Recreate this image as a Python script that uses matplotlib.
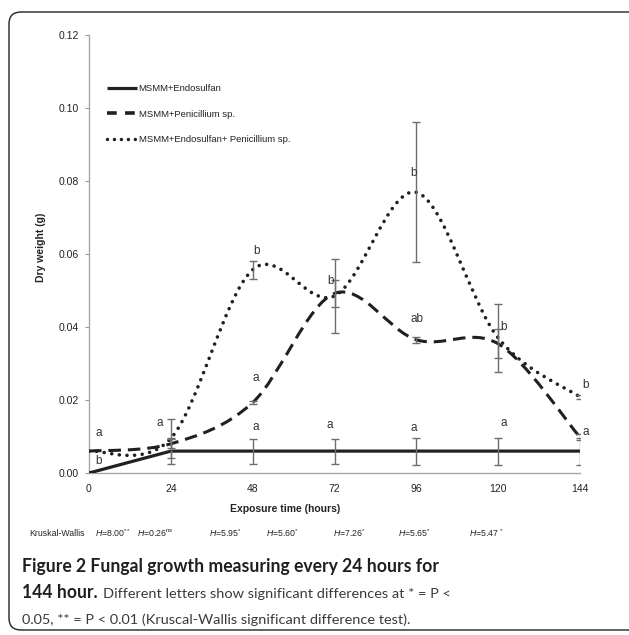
import matplotlib
matplotlib.use("Agg")
import matplotlib.pyplot as plt
from matplotlib.path import Path
from matplotlib.patches import PathPatch, FancyBboxPatch
from matplotlib.lines import Line2D
import numpy as np

plt.rcParams['font.family'] = ['Liberation Sans', 'DejaVu Sans']
plt.rcParams['lines.scale_dashes'] = False
plt.rcParams['mathtext.fontset'] = 'custom'
plt.rcParams['mathtext.rm'] = 'Liberation Sans'
plt.rcParams['mathtext.it'] = 'Liberation Sans:italic'
plt.rcParams['mathtext.bf'] = 'Liberation Sans:bold'

# ---------------- data ----------------
hours = [0, 24, 48, 72, 96, 120, 144]
endo = [0.0, 0.006, 0.006, 0.006, 0.006, 0.006, 0.006]
endo_err = [0.0, 0.0035, 0.0034, 0.0034, 0.0037, 0.0037, 0.0037]
peni = [0.006, 0.008, 0.0193, 0.0492, 0.0365, 0.0354, 0.0098]
peni_err = [0.0, 0.0012, 0.0005, 0.0038, 0.0008, 0.004, 0.0008]
combo = [0.006, 0.0095, 0.0557, 0.0485, 0.0769, 0.037, 0.0208]
combo_err = [0.0, 0.0053, 0.0025, 0.0101, 0.0192, 0.0092, 0.0005]

series_names = ["MSMM+Endosulfan", "MSMM+Penicillium sp.",
                "MSMM+Endosulfan+ Penicillium sp."]

letter_text = ["a", "b", "a", "b", "a", "a", "b", "a", "b", "ab", "a", "b", "a", "b", "a"]
letter_x = [2.9, 2.9, 20.8, 49.0, 49.0, 49.0, 70.9, 70.7, 95.3, 96.2, 95.3, 121.7, 121.7, 145.7, 145.7]
letter_y = [0.0110, 0.0034, 0.0137, 0.0609, 0.0260, 0.0127, 0.0527, 0.0131, 0.0823, 0.0422,
            0.0124, 0.0400, 0.0138, 0.0241, 0.0113]

kw_labels = ["Kruskal-Wallis",
             r"$\mathit{H}$=8.00$^{**}$",
             r"$\mathit{H}$=0.26$^{\mathrm{ns}}$",
             r"$\mathit{H}$=5.95$^{*}$",
             r"$\mathit{H}$=5.60$^{*}$",
             r"$\mathit{H}$=7.26$^{*}$",
             r"$\mathit{H}$=5.65$^{*}$",
             r"$\mathit{H}$=5.47 $^{*}$"]
kw_px = [57, 113, 155, 225, 282, 349, 414, 487]

y_ticks = [0.0, 0.02, 0.04, 0.06, 0.08, 0.10, 0.12]

# ---------------- figure ----------------
W, H = 629, 635
fig = plt.figure(figsize=(W / 100, H / 100), dpi=100)
ax = fig.add_axes([89 / W, 1 - 473 / H, 491 / W, 438 / H])

DARK = '#231f20'
GRAY = '#6e6e6e'


def smooth_path(xs, ys):
    pts = np.column_stack([xs, ys]).astype(float)
    n = len(pts)
    verts = [pts[0]]
    codes = [Path.MOVETO]
    for i in range(n - 1):
        p0 = pts[i - 1] if i > 0 else pts[i]
        p1 = pts[i]
        p2 = pts[i + 1]
        p3 = pts[i + 2] if i + 2 < n else pts[i + 1]
        c1 = p1 + (p2 - p0) / 6.0
        c2 = p2 - (p3 - p1) / 6.0
        verts += [c1, c2, p2]
        codes += [Path.CURVE4] * 3
    return Path(verts, codes)


# solid (straight)
ax.plot(hours, endo, color=DARK, lw=2.3, solid_capstyle='butt', zorder=4)

# dashed smoothed
p_dash = PathPatch(smooth_path(hours, peni), facecolor='none', edgecolor=DARK,
                   lw=2.2, linestyle=(0, (9.0, 5.0)), zorder=4)
p_dash.set_capstyle('butt')
ax.add_patch(p_dash)

# dotted smoothed
p_dot = PathPatch(smooth_path(hours, combo), facecolor='none', edgecolor=DARK,
                  lw=2.6, linestyle=(0, (0.01, 5.5)), zorder=4)
p_dot.set_capstyle('round')
ax.add_patch(p_dot)

# error bars
for vals, errs in [(endo, endo_err), (peni, peni_err), (combo, combo_err)]:
    ax.errorbar(hours[1:], vals[1:], yerr=errs[1:], fmt='none', ecolor=GRAY,
                elinewidth=1.0, capsize=3, capthick=1.0, zorder=5)

for t, x, y in zip(letter_text, letter_x, letter_y):
    ax.text(x, y, t, ha='center', va='center', fontsize=8.5, color='#333333',
            zorder=6, clip_on=False)

ax.set_xlim(0, 144)
ax.set_ylim(0, 0.12)
ax.set_xticks(hours)
ax.set_xticklabels([str(h) for h in hours])
ax.set_yticks(y_ticks)
ax.set_yticklabels([f"{v:.2f}" for v in y_ticks])
ax.tick_params(axis='x', length=0, pad=8, labelsize=7.5, colors='#222222')
ax.tick_params(axis='y', length=3, width=0.8, pad=4.5, labelsize=7.5,
               colors='#222222', color='#9a9a9a')
for s in ['top', 'right']:
    ax.spines[s].set_visible(False)
for s in ['left', 'bottom']:
    ax.spines[s].set_color('#a6a6a6')
    ax.spines[s].set_linewidth(1.0)

ax.set_xlabel("Exposure time (hours)", fontsize=7.5, fontweight='bold', color='#222222')
ax.xaxis.set_label_coords((285 - 89) / 491, (473 - 504) / 438)
ax.set_ylabel("Dry weight (g)", fontsize=7.5, fontweight='bold', color='#222222')
ax.yaxis.set_label_coords((46 - 89) / 491, (473 - 247) / 438)

# legend
handles = [
    Line2D([], [], color=DARK, lw=2.3, solid_capstyle='butt'),
    Line2D([], [], color=DARK, lw=2.6, linestyle=(0, (7.0, 6.0)), dash_capstyle='butt'),
    Line2D([], [], color=DARK, lw=2.5, linestyle=(0, (0.01, 5.0)), dash_capstyle='round'),
]
leg = ax.legend(handles, series_names, loc='upper left',
                bbox_to_anchor=((107 - 89) / 491, (473 - 84) / 438),
                frameon=False, fontsize=6.8, handlelength=3.15, handletextpad=0.2,
                labelspacing=1.75, borderpad=0, borderaxespad=0)
for t in leg.get_texts():
    t.set_color('#222222')

# Kruskal-Wallis row
for lab, px in zip(kw_labels, kw_px):
    fig.text(px / W, 1 - 533 / H, lab, ha='center', va='center', fontsize=6.3,
             color='#222222')

# caption
renderer = fig.canvas.get_renderer()


def fit_text(x, y, s, target_w, **kw):
    t = fig.text(x, y, s, **kw)
    fs = t.get_fontsize()
    w = t.get_window_extent(renderer).width
    t.set_fontsize(fs * target_w / w)
    return t


CAPF = ['Lato', 'DejaVu Sans']
NORM = '#3a3a3a'
fit_text(22 / W, 1 - 572 / H, "Figure 2 Fungal growth measuring every 24 hours for",
         415, fontsize=12, fontweight='bold', family=CAPF, color=DARK,
         ha='left', va='baseline')
b2 = fit_text(22 / W, 1 - 598 / H, "144 hour.", 75, fontsize=12, fontweight='bold',
              family=CAPF, color=DARK, ha='left', va='baseline')
bx1 = b2.get_window_extent(renderer).x1
n2 = fit_text((bx1 + 5) / W, 1 - 598 / H,
              "Different letters show significant differences at * = P <",
              473 - bx1 - 5, fontsize=12, family=CAPF, color=NORM, ha='left',
              va='baseline')
n3 = fit_text(22 / W, 1 - 624 / H,
              "0.05, ** = P < 0.01 (Kruscal-Wallis significant difference test).",
              358, fontsize=12, family=CAPF, color=NORM, ha='left', va='baseline')
common = 0.5 * (n2.get_fontsize() + n3.get_fontsize())
n2.set_fontsize(common)
n3.set_fontsize(common)

# border
box = FancyBboxPatch((9, 5), 650, 618, boxstyle="round,pad=0,rounding_size=12",
                     transform=None, facecolor='none', edgecolor='#222222', lw=1.0)
fig.add_artist(box)

fig.savefig("out.png", dpi=100)
